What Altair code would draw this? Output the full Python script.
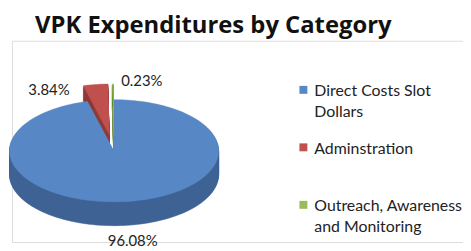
import altair as alt
import pandas as pd

# ---- data ----
categories = ["Direct Costs Slot Dollars", "Adminstration", "Outreach, Awareness and Monitoring"]
shares = [96.08, 3.84, 0.23]
pct_labels = ["96.08%", "3.84%", "0.23%"]

# ---- styles / layout (page pixel coordinates) ----
TOP_COL = ["#5787C4", "#C0504D", "#9BBB59"]
SIDE_COL = ["#3D6293", "#8E3A38", "#76913F"]
CX, CY, A, B, DEPTH = 111, 151, 105.5, 51.5, 24
EXPLODE = 0.31
N = 180
LBL_DX = [2, -48, 29]
LBL_DY = [3, 2, -6]
LEG_X, LEG_Y0, LEG_STEP = 302, 96, 58

PAD_TOP = 5
PT = 40               # page y of plot top
W, H = 455, 203
FONT = "Lato"

df = pd.DataFrame({"cat": categories, "value": shares, "label": pct_labels,
                   "idx": list(range(len(categories)))})

xs = alt.Scale(domain=[8, 8 + W], nice=False, zero=False)
ys = alt.Scale(domain=[PT, PT + H], nice=False, zero=False, reverse=True)

def jsarr(lst):
    return "[" + ",".join(repr(v) if isinstance(v, str) else str(v) for v in lst) + "]"

base = (
    alt.Chart(df)
    .transform_joinaggregate(total="sum(value)")
    .transform_window(cum="sum(value)", sort=[alt.SortField("idx")], frame=[None, 0])
    .transform_calculate(
        s0="(datum.cum - datum.value) / datum.total",
        s1="datum.cum / datum.total",
    )
    .transform_calculate(
        mid="(datum.s0 + datum.s1) / 2",
        ex=f"datum.idx == 0 ? 0 : {EXPLODE}",
    )
)

poly = (
    base.transform_calculate(pts=f"sequence(0, {N + 2})")
    .transform_flatten(["pts"], as_=["i"])
    .transform_calculate(t=f"datum.s0 + (datum.s1 - datum.s0) * (datum.i - 1) / {N}")
    .transform_calculate(
        px=f"{CX} + datum.ex * {A} * sin(2 * PI * datum.mid) + (datum.i == 0 ? 0 : {A} * sin(2 * PI * datum.t))",
        py=f"{CY} - datum.ex * {B} * cos(2 * PI * datum.mid) - (datum.i == 0 ? 0 : {B} * cos(2 * PI * datum.t))",
    )
)

side = (
    poly.transform_calculate(ks=f"sequence(1, {DEPTH + 1})")
    .transform_flatten(["ks"], as_=["k"])
    .transform_calculate(
        py2="datum.py + datum.k",
        key="datum.cat + '_' + datum.k",
        col=f"{jsarr(SIDE_COL)}[datum.idx]",
    )
    .mark_line(strokeWidth=0.6, interpolate="linear")
    .encode(
        x=alt.X("px:Q", scale=xs, axis=None),
        y=alt.Y("py2:Q", scale=ys, axis=None),
        fill=alt.Fill("col:N", scale=None),
        stroke=alt.Stroke("col:N", scale=None),
        detail="key:N",
        order=alt.Order("i:Q"),
    )
)

top = (
    poly.transform_calculate(col=f"{jsarr(TOP_COL)}[datum.idx]")
    .mark_line(strokeWidth=0.5, interpolate="linear")
    .encode(
        x=alt.X("px:Q", scale=xs, axis=None),
        y=alt.Y("py:Q", scale=ys, axis=None),
        fill=alt.Fill("col:N", scale=None),
        stroke=alt.Stroke("col:N", scale=None),
        detail="cat:N",
        order=alt.Order("i:Q"),
    )
)

labels = (
    base.transform_calculate(
        lx=f"{CX} + 1.25 * {A} * sin(2 * PI * datum.mid) + {jsarr(LBL_DX)}[datum.idx]",
        ly=f"{CY} - 1.25 * {B} * cos(2 * PI * datum.mid) + (cos(2 * PI * datum.mid) < 0 ? {DEPTH} : 0) + {jsarr(LBL_DY)}[datum.idx]",
    )
    .mark_text(font=FONT, fontSize=15, color="#222222", align="center", baseline="middle")
    .encode(
        x=alt.X("lx:Q", scale=xs, axis=None),
        y=alt.Y("ly:Q", scale=ys, axis=None),
        text="label:N",
    )
)

leg_base = alt.Chart(df).transform_calculate(
    lgx=f"{LEG_X}",
    lgy=f"{LEG_Y0} + datum.idx * {LEG_STEP}",
    sqy=f"{LEG_Y0} - 6.5 + datum.idx * {LEG_STEP}",
    txt="replace(replace(datum.cat, ' Dollars', '\\nDollars'), ' and ', '\\nand ')",
    col=f"{jsarr(TOP_COL)}[datum.idx]",
)

leg_sq = leg_base.mark_square(size=64, opacity=1).encode(
    x=alt.X("lgx:Q", scale=xs, axis=None),
    y=alt.Y("sqy:Q", scale=ys, axis=None),
    fill=alt.Fill("col:N", scale=None),
)

leg_txt = leg_base.transform_calculate(tx=f"{LEG_X} + 11").mark_text(
    font=FONT, fontSize=16, color="#222222", align="left", baseline="alphabetic",
    lineBreak="\n", lineHeight=21,
).encode(
    x=alt.X("tx:Q", scale=xs, axis=None),
    y=alt.Y("lgy:Q", scale=ys, axis=None),
    text="txt:N",
)

chart = (
    alt.layer(side, top, labels, leg_sq, leg_txt)
    .properties(
        width=W,
        height=H,
        title=alt.Title("VPK Expenditures by Category", font="Open Sans", fontSize=24,
                        fontWeight="bold", color="#111111", anchor="start",
                        dx=27, offset=3),
    )
    .configure_view(stroke=None)
    .configure(background="white", padding={"left": 0, "top": PAD_TOP, "right": 0, "bottom": 0})
)

chart.save("out.html", embed_options={"renderer": "svg", "actions": False})
